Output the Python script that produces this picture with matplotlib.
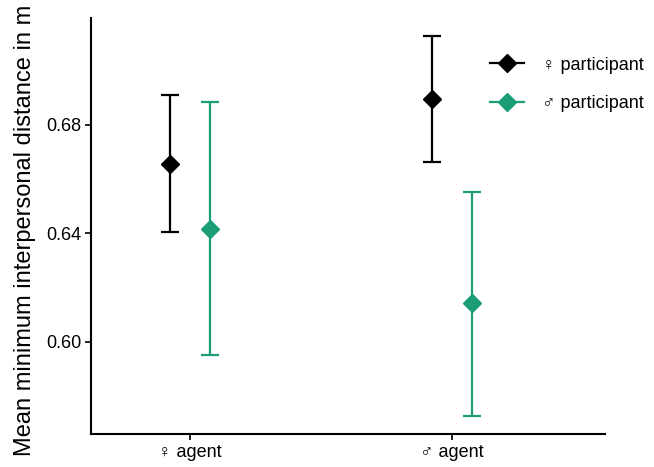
import matplotlib
matplotlib.use("Agg")
import matplotlib.pyplot as plt
from matplotlib.lines import Line2D
import numpy as np

plt.rcParams['font.family'] = ['Liberation Sans', 'DejaVu Sans']

agents = ['\u2640 agent', '\u2642 agent']
participants = ['\u2640 participant', '\u2642 participant']
colors = ['black', '#1b9e77']

# mean, lower, upper per participant group (rows) and agent (cols)
means = [[0.6656, 0.6896],
         [0.6417, 0.6144]]
lower = [[0.6406, 0.6664],
         [0.5952, 0.5727]]
upper = [[0.6911, 0.7128],
         [0.6885, 0.6553]]

fig = plt.figure(figsize=(6.54, 4.67), dpi=100)
ax = fig.add_axes([0.139, 0.0707, 0.786, 0.8908])

xpos = np.arange(1, len(agents) + 1)
dodge = [-0.075, 0.075]

handles = []
for i, name in enumerate(participants):
    m = np.array(means[i])
    lo = m - np.array(lower[i])
    hi = np.array(upper[i]) - m
    ax.errorbar(xpos + dodge[i], m, yerr=[lo, hi], fmt='D', color=colors[i],
                ms=9, elinewidth=1.6, capsize=6.5, capthick=1.6)
    handles.append(Line2D([0], [0], color=colors[i], marker='D', ms=9, lw=1.6, label=name))

ax.set_xlim(0.622, 2.584)
ax.set_ylim(0.566, 0.7194)
ax.set_xticks(xpos)
ax.set_xticklabels(agents, fontsize=13)
ax.set_yticks([0.60, 0.64, 0.68])
ax.set_yticklabels(['0.60', '0.64', '0.68'], fontsize=13)
ax.set_ylabel('Mean minimum interpersonal distance in m', fontsize=17)
ax.yaxis.set_label_coords(-0.107, 0.49)

for s in ['top', 'right']:
    ax.spines[s].set_visible(False)
for s in ['left', 'bottom']:
    ax.spines[s].set_linewidth(1.5)
ax.tick_params(length=4, width=1.2, colors='black', pad=3)

ax.legend(handles=handles, loc='upper left', bbox_to_anchor=(0.745, 0.946),
          frameon=False, fontsize=13, handlelength=1.85, handletextpad=1.0,
          labelspacing=1.2)

fig.savefig('out.png', dpi=100)
